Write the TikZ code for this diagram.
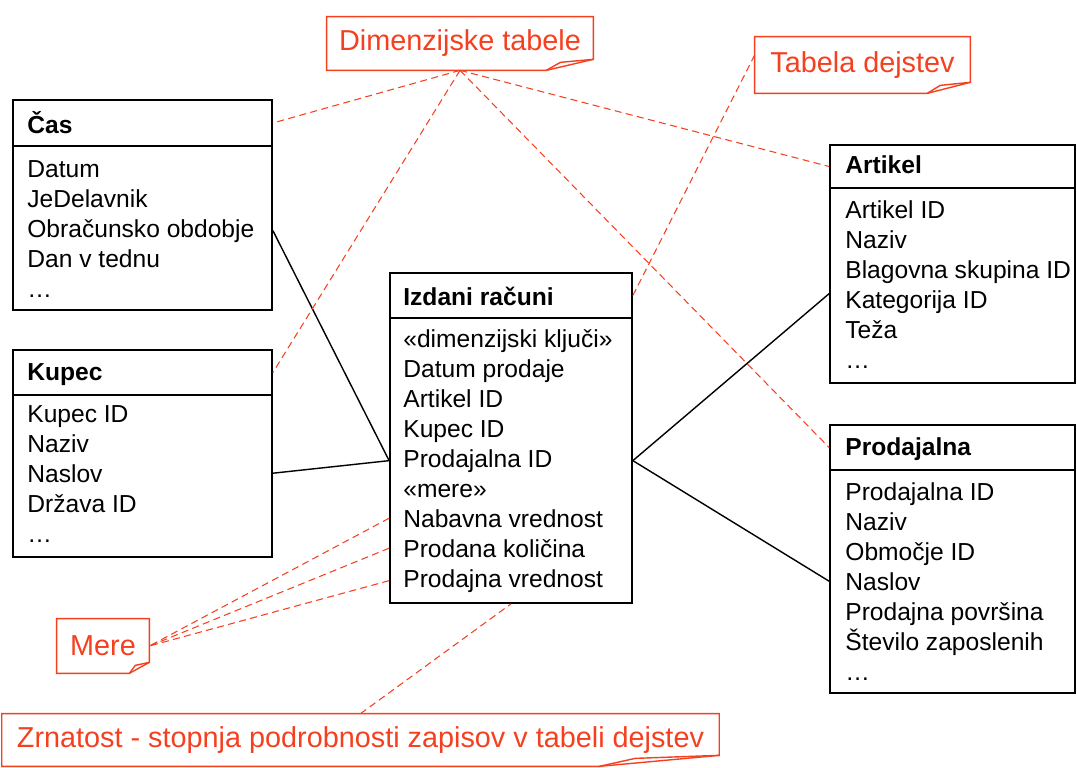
\documentclass[tikz,border=0pt]{standalone}
\usepackage{fontspec}
\setmainfont{Liberation Sans}
\usetikzlibrary{fit,calc}

\definecolor{notered}{RGB}{245,64,32}

% note outline with a folded corner at bottom right
\newcommand{\foldnote}[2]{%
  \draw[notered, line width=0.8pt] (#1.north west) -- (#1.north east) -- ($(#1.south east)+(0,-11)$) -- ($(#1.south east)+(-#2,0)$) -- (#1.south west) -- cycle;
  \draw[notered, line width=0.8pt] ($(#1.south east)+(-#2,0)$) -- ($(#1.south east)+(-0.7*#2,-8)$) -- ($(#1.south east)+(0,-11)$);}

\begin{document}
\begin{tikzpicture}[
    x=0.02cm, y=-0.02cm,
    tbl/.style={rectangle, draw, line width=1pt, inner sep=0pt},
    title/.style={anchor=base west, inner sep=0pt, font=\fontsize{14}{16}\selectfont\bfseries},
    row/.style={anchor=base west, inner sep=0pt, font=\fontsize{14}{16}\selectfont},
    note/.style={rectangle, inner sep=0pt, text=notered, font=\fontsize{16.4}{18}\selectfont},
    rel/.style={line width=0.8pt},
    hint/.style={notered, dash pattern=on 4pt off 2.5pt, line width=0.6pt}
]
\useasboundingbox (0,0) rectangle (1077,767);

% Cas
\node[tbl, fit={(13,100) (272,146)}] (cas) {};
\node[tbl, fit={(13,146) (272,310)}] (casbody) {};
\node[title] (castitle) at (27,133) {Čas};
\foreach \t [count=\i] in {Datum, JeDelavnik, Obračunsko obdobje, Dan v tednu, …}
  \node[row] (cas\i) at (27, 147+30*\i) {\t};

% Kupec
\node[tbl, fit={(13,350) (272,395)}] (kup) {};
\node[tbl, fit={(13,395) (272,557)}] (kupbody) {};
\node[title] (kuptitle) at (27,380) {Kupec};
\foreach \t [count=\i] in {Kupec ID, Naziv, Naslov, Država ID, …}
  \node[row] (kup\i) at (27, 392+30*\i) {\t};

% Izdani racuni (fact table)
\node[tbl, fit={(390,273) (632,318)}] (izd) {};
\node[tbl, fit={(390,318) (632,603)}] (izdbody) {};
\node[title] (izdtitle) at (403,305) {Izdani računi};
\foreach \t [count=\i] in {«dimenzijski ključi», Datum prodaje, Artikel ID, Kupec ID, Prodajalna ID, «mere», Nabavna vrednost, Prodana količina, Prodajna vrednost}
  \node[row] (izd\i) at (403, 317+30*\i) {\t};

% Artikel
\node[tbl, fit={(830,145) (1075,188)}] (art) {};
\node[tbl, fit={(830,188) (1075,383)}] (artbody) {};
\node[title] (arttitle) at (845,173) {Artikel};
\foreach \t [count=\i] in {Artikel ID, Naziv, Blagovna skupina ID, Kategorija ID, Teža, …}
  \node[row] (art\i) at (845, 188+30*\i) {\t};

% Prodajalna
\node[tbl, fit={(830,425) (1075,470)}] (prod) {};
\node[tbl, fit={(830,470) (1075,693)}] (prodbody) {};
\node[title] (prodtitle) at (845,455) {Prodajalna};
\foreach \t [count=\i] in {Prodajalna ID, Naziv, Območje ID, Naslov, Prodajna površina, Število zaposlenih, …}
  \node[row] (prod\i) at (845, 470+30*\i) {\t};

% relations
\draw[rel] (cas3.west -| casbody.east) -- (izd5.west -| izdbody.west);
\draw[rel] (kup3.west -| kupbody.east) -- (izd5.west -| izdbody.west);
\draw[rel] ($(art4.west -| artbody.west)+(0,-8)$) -- (izd5.west -| izdbody.east);
\draw[rel] (prod4.west -| prodbody.west) -- (izd5.west -| izdbody.east);

% notes
\node[note, minimum width=5.32cm, minimum height=1.06cm] (dim) at (460,43.5) {Dimenzijske tabele};
\foldnote{dim}{47}
\node[note, minimum width=4.3cm, minimum height=1.12cm] (fact) at (862.5,65) {Tabela dejstev};
\foldnote{fact}{43}
\node[note, minimum width=1.84cm, minimum height=1.08cm] (mere) at (103,646) {Mere};
\foldnote{mere}{20}
\node[note, minimum width=14.34cm, minimum height=1.04cm] (zrn) at (360.5,740) {Zrnatost - stopnja podrobnosti zapisov v tabeli dejstev};
\foldnote{zrn}{120}

% note links
\draw[hint] (dim.south) -- (cas.east);
\draw[hint] (dim.south) -- (kup.east);
\draw[hint] (dim.south) -- (art.west);
\draw[hint] (dim.south) -- (prod.west);
\draw[hint] (izd.east) -- ($(fact.west)+(0,-10)$);
\draw[hint] (izd7.west -| izdbody.west) -- (mere.east);
\draw[hint] (izd8.west -| izdbody.west) -- (mere.east);
\draw[hint] (izd9.west -| izdbody.west) -- (mere.east);
\draw[hint] (zrn.north) -- (izdbody.south);

\end{tikzpicture}
\end{document}
